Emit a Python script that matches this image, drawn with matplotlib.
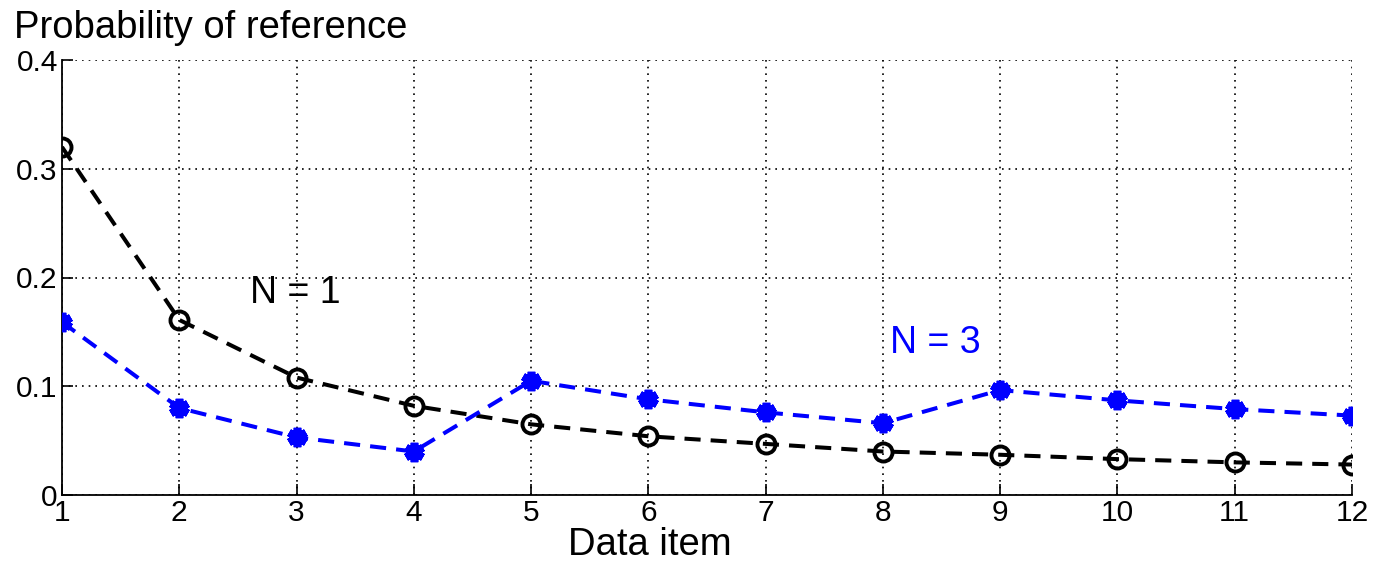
import numpy as np
import matplotlib
matplotlib.use("Agg")
import matplotlib.pyplot as plt

plt.rcParams["font.family"] = ["Liberation Sans", "DejaVu Sans"]

items = np.arange(1, 13)
p_n1 = [0.320, 0.161, 0.108, 0.082, 0.065, 0.054, 0.047, 0.040, 0.037, 0.033, 0.030, 0.028]
p_n3 = [0.159, 0.080, 0.053, 0.040, 0.105, 0.088, 0.076, 0.066, 0.0965, 0.087, 0.079, 0.073]
yticks = [0, 0.1, 0.2, 0.3, 0.4]
ytick_labels = ["0", "0.1", "0.2", "0.3", "0.4"]

fig = plt.figure(figsize=(13.74, 5.7), dpi=100)
ax = fig.add_axes([62 / 1374, 75 / 570, 1290 / 1374, 435 / 570])

ax.plot(items, p_n1, color="black", ls=(0, (4, 2.5)), lw=2.9,
        marker="o", ms=13, mfc="none", mec="black", mew=2.8, zorder=3)
ax.plot(items, p_n3, color="blue", ls=(0, (4, 2.5)), lw=2.9,
        marker=(6, 2, 0), ms=14, mec="blue", mew=5.5, zorder=3)

ax.set_xlim(1, 12)
ax.set_ylim(0, 0.4)
ax.set_xticks(items)
ax.set_yticks(yticks)
ax.set_yticklabels(ytick_labels)
ax.grid(True, ls=(0, (1, 3)), color="black", lw=1.2)
ax.tick_params(direction="in", length=8, width=1.2, labelsize=21.5, pad=3)
for s in ("top", "right"):
    ax.spines[s].set_visible(False)
for s in ("left", "bottom"):
    ax.spines[s].set_linewidth(1.3)

ax.text(2.6, 0.186, "N = 1", fontsize=27, color="black", va="center")
ax.text(8.06, 0.14, "N = 3", fontsize=27, color="blue", va="center")

fig.text(14 / 1374, 1 - 28 / 570, "Probability of reference", fontsize=27.5, va="center", ha="left")
fig.text(650 / 1374, 1 - 545 / 570, "Data item", fontsize=27.5, va="center", ha="center")

fig.savefig("out.png", dpi=100)
